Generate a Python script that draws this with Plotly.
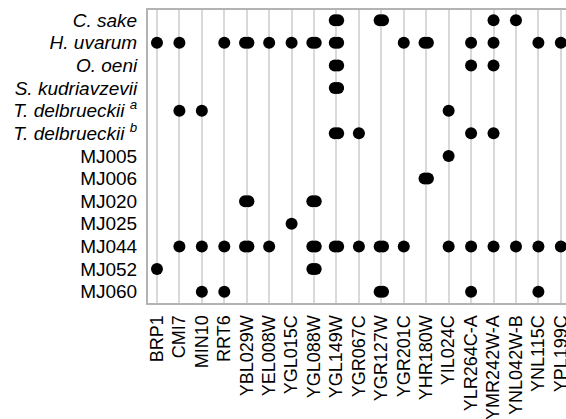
import plotly.graph_objects as go

genes = ["BRP1", "CMI7", "MIN10", "RRT6", "YBL029W", "YEL008W", "YGL015C",
         "YGL088W", "YGL149W", "YGR067C", "YGR127W", "YGR201C", "YHR180W",
         "YIL024C", "YLR264C-A", "YMR242W-A", "YNL042W-B", "YNL115C", "YPL199C"]

strains = ["<i>C. sake</i>", "<i>H. uvarum</i>", "<i>O. oeni</i>",
           "<i>S. kudriavzevii</i>", "<i>T. delbrueckii <sup>a</sup></i>",
           "<i>T. delbrueckii <sup>b</sup></i>", "MJ005", "MJ006", "MJ020",
           "MJ025", "MJ044", "MJ052", "MJ060"]

# number of hits per strain (row) and gene (column): 0 none, 1 single, 2 double
hits = [
    # BRP1 CMI7 MIN10 RRT6 YBL YEL YGL015 YGL088 YGL149 YGR067 YGR127 YGR201 YHR YIL YLR YMR YNL042 YNL115 YPL
    [0, 0, 0, 0, 0, 0, 0, 0, 2, 0, 2, 0, 0, 0, 0, 1, 1, 0, 0],  # C. sake
    [1, 1, 0, 1, 2, 1, 1, 2, 2, 0, 0, 1, 2, 0, 1, 1, 0, 1, 1],  # H. uvarum
    [0, 0, 0, 0, 0, 0, 0, 0, 2, 0, 0, 0, 0, 0, 1, 1, 0, 0, 0],  # O. oeni
    [0, 0, 0, 0, 0, 0, 0, 0, 2, 0, 0, 0, 0, 0, 0, 0, 0, 0, 0],  # S. kudriavzevii
    [0, 1, 1, 0, 0, 0, 0, 0, 0, 0, 0, 0, 0, 1, 0, 0, 0, 0, 0],  # T. delbrueckii a
    [0, 0, 0, 0, 0, 0, 0, 0, 2, 1, 0, 0, 0, 0, 1, 1, 0, 0, 0],  # T. delbrueckii b
    [0, 0, 0, 0, 0, 0, 0, 0, 0, 0, 0, 0, 0, 1, 0, 0, 0, 0, 0],  # MJ005
    [0, 0, 0, 0, 0, 0, 0, 0, 0, 0, 0, 0, 2, 0, 0, 0, 0, 0, 0],  # MJ006
    [0, 0, 0, 0, 2, 0, 0, 2, 0, 0, 0, 0, 0, 0, 0, 0, 0, 0, 0],  # MJ020
    [0, 0, 0, 0, 0, 0, 1, 0, 0, 0, 0, 0, 0, 0, 0, 0, 0, 0, 0],  # MJ025
    [0, 1, 1, 1, 2, 1, 0, 2, 2, 1, 2, 1, 0, 1, 1, 1, 1, 1, 1],  # MJ044
    [1, 0, 0, 0, 0, 0, 0, 2, 0, 0, 0, 0, 0, 0, 0, 0, 0, 0, 0],  # MJ052
    [0, 0, 1, 1, 0, 0, 0, 0, 0, 0, 2, 0, 0, 0, 1, 0, 0, 1, 0],  # MJ060
]

# build marker positions; doubled hits drawn as two overlapping dots
xs, ys = [], []
offset = 0.075
for r, row in enumerate(hits):
    for c, v in enumerate(row):
        if v == 1:
            xs.append(c); ys.append(r)
        elif v == 2:
            xs += [c - offset, c + offset]; ys += [r, r]

fig = go.Figure(go.Scatter(
    x=xs, y=ys, mode="markers",
    marker=dict(size=12, color="black", line=dict(width=0)),
    hoverinfo="skip", cliponaxis=False))

family = "Liberation Sans, Arial, sans-serif"
fig.update_layout(
    width=566, height=419,
    margin=dict(l=148, r=0, t=10, b=116),
    paper_bgcolor="white", plot_bgcolor="white",
    showlegend=False, font=dict(family=family, size=18, color="black"),
    xaxis=dict(range=[-0.4, 18.23], tickmode="array",
               tickvals=list(range(len(genes))), ticktext=genes,
               tickangle=-90, showgrid=True, gridcolor="#d9d9d9", gridwidth=2,
               zeroline=False, showline=True, linecolor="#b3b3b3", linewidth=2,
               mirror=True, ticks="", ticklabelstandoff=3, automargin=False,
               ticklabeloverflow="allow",
               tickfont=dict(family=family, size=18, color="black")),
    yaxis=dict(range=[12.5, -0.45], tickmode="array",
               tickvals=list(range(len(strains))), ticktext=strains,
               showgrid=False, zeroline=False, showline=True,
               linecolor="#b3b3b3", linewidth=2, ticks="", ticklabelstandoff=5,
               automargin=False,
               tickfont=dict(family=family, size=19, color="black")),
)
fig.write_html(
    "out.html",
    config={"displayModeBar": False, "staticPlot": True},
    post_script="document.body.style.margin='0';document.body.style.overflow='hidden';")
